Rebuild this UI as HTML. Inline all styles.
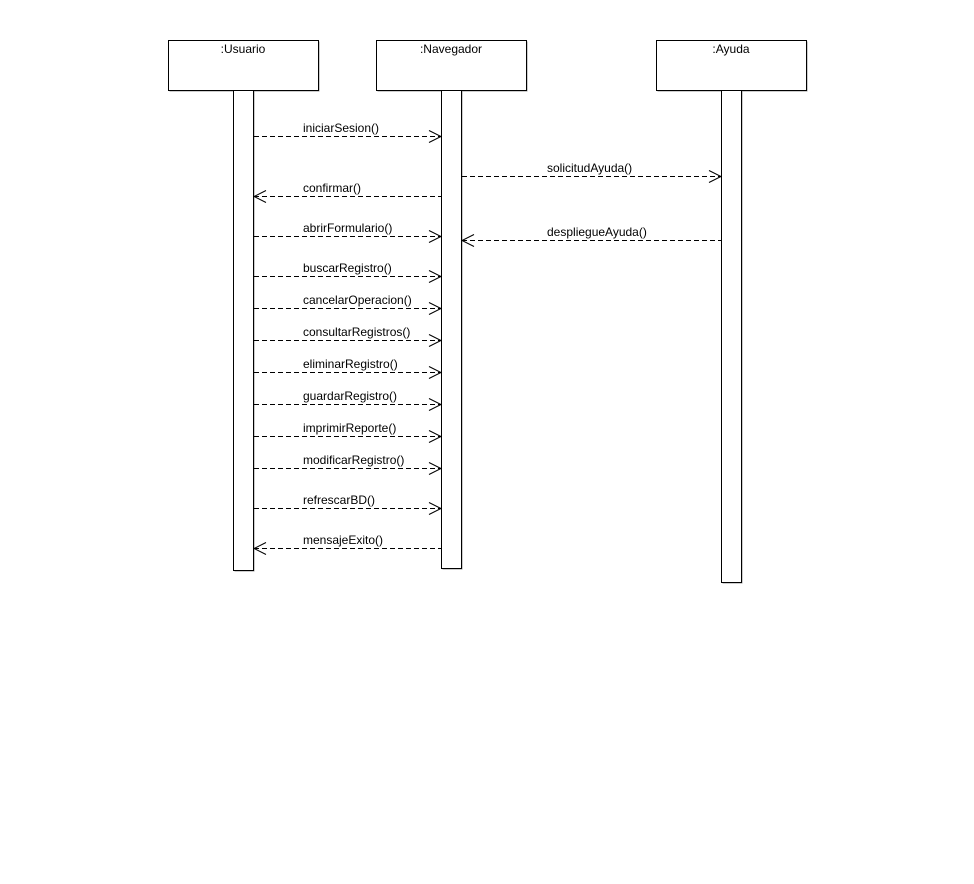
<!DOCTYPE html>
<html><head><meta charset="utf-8"><style>
html,body{margin:0;padding:0;background:#fff;}
svg text{font-family:"Liberation Sans",sans-serif;font-size:12px;fill:#000;}
</style></head><body>
<svg width="974" height="879" xmlns="http://www.w3.org/2000/svg">
<g fill="#fff" stroke="#000" stroke-width="1">
<rect x="169.5" y="41.5" width="150" height="50" fill="#999" stroke="none"/>
<rect x="168.5" y="40.5" width="150" height="50"/>
<rect x="377.5" y="41.5" width="150" height="50" fill="#999" stroke="none"/>
<rect x="376.5" y="40.5" width="150" height="50"/>
<rect x="657.5" y="41.5" width="150" height="50" fill="#999" stroke="none"/>
<rect x="656.5" y="40.5" width="150" height="50"/>
<rect x="234.5" y="91.5" width="20" height="480" fill="#999" stroke="none"/>
<rect x="233.5" y="90.5" width="20" height="480"/>
<rect x="442.5" y="91.5" width="20" height="478" fill="#999" stroke="none"/>
<rect x="441.5" y="90.5" width="20" height="478"/>
<rect x="722.5" y="91.5" width="20" height="492" fill="#999" stroke="none"/>
<rect x="721.5" y="90.5" width="20" height="492"/>
</g>
<text x="243" y="53" text-anchor="middle">:Usuario</text>
<text x="451" y="53" text-anchor="middle">:Navegador</text>
<text x="731" y="53" text-anchor="middle">:Ayuda</text>
<g stroke="#000" stroke-width="1" fill="none" stroke-dasharray="5,3">
<line x1="254" y1="136.5" x2="441" y2="136.5"/>
<line x1="462" y1="176.5" x2="721" y2="176.5"/>
<line x1="254" y1="196.5" x2="441" y2="196.5"/>
<line x1="254" y1="236.5" x2="441" y2="236.5"/>
<line x1="462" y1="240.5" x2="721" y2="240.5"/>
<line x1="254" y1="276.5" x2="441" y2="276.5"/>
<line x1="254" y1="308.5" x2="441" y2="308.5"/>
<line x1="254" y1="340.5" x2="441" y2="340.5"/>
<line x1="254" y1="372.5" x2="441" y2="372.5"/>
<line x1="254" y1="404.5" x2="441" y2="404.5"/>
<line x1="254" y1="436.5" x2="441" y2="436.5"/>
<line x1="254" y1="468.5" x2="441" y2="468.5"/>
<line x1="254" y1="508.5" x2="441" y2="508.5"/>
<line x1="254" y1="548.5" x2="441" y2="548.5"/>
</g>
<g stroke="#000" stroke-width="1" fill="none">
<polyline points="429,130.5 441,136.5 429,142.5"/>
<polyline points="709,170.5 721,176.5 709,182.5"/>
<polyline points="266,190.5 254,196.5 266,202.5"/>
<polyline points="429,230.5 441,236.5 429,242.5"/>
<polyline points="474,234.5 462,240.5 474,246.5"/>
<polyline points="429,270.5 441,276.5 429,282.5"/>
<polyline points="429,302.5 441,308.5 429,314.5"/>
<polyline points="429,334.5 441,340.5 429,346.5"/>
<polyline points="429,366.5 441,372.5 429,378.5"/>
<polyline points="429,398.5 441,404.5 429,410.5"/>
<polyline points="429,430.5 441,436.5 429,442.5"/>
<polyline points="429,462.5 441,468.5 429,474.5"/>
<polyline points="429,502.5 441,508.5 429,514.5"/>
<polyline points="266,542.5 254,548.5 266,554.5"/>
</g>
<text x="303" y="132">iniciarSesion()</text>
<text x="547" y="172">solicitudAyuda()</text>
<text x="303" y="192">confirmar()</text>
<text x="303" y="232">abrirFormulario()</text>
<text x="547" y="236">despliegueAyuda()</text>
<text x="303" y="272">buscarRegistro()</text>
<text x="303" y="304">cancelarOperacion()</text>
<text x="303" y="336">consultarRegistros()</text>
<text x="303" y="368">eliminarRegistro()</text>
<text x="303" y="400">guardarRegistro()</text>
<text x="303" y="432">imprimirReporte()</text>
<text x="303" y="464">modificarRegistro()</text>
<text x="303" y="504">refrescarBD()</text>
<text x="303" y="544">mensajeExito()</text>
</svg>
</body></html>
